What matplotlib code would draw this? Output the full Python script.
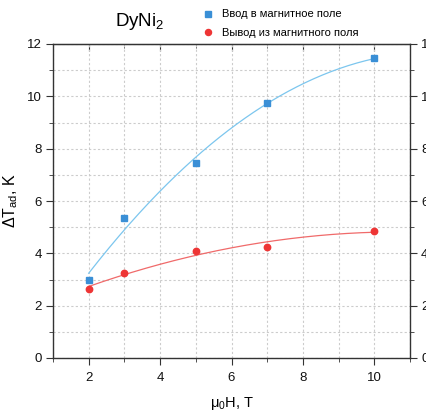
import numpy as np
import matplotlib
matplotlib.use("Agg")
import matplotlib.pyplot as plt
from matplotlib.ticker import MultipleLocator

plt.rcParams['font.family'] = ['Liberation Sans', 'DejaVu Sans']
plt.rcParams['mathtext.fontset'] = 'custom'
plt.rcParams['mathtext.rm'] = 'Liberation Sans'
plt.rcParams['mathtext.it'] = 'Liberation Sans'

# magnetisation / demagnetisation data
field = [2, 3, 5, 7, 10]
dt_in = [2.98, 5.35, 7.45, 9.74, 11.46]
dt_out = [2.64, 3.26, 4.09, 4.24, 4.86]

label_in = 'Ввод в магнитное поле'
label_out = 'Вывод из магнитного поля'

fig = plt.figure(figsize=(4.26, 4.12), dpi=100)
ax = fig.add_axes([53 / 426, 54 / 412, 357 / 426, 314 / 412])

# quadratic fits through each series
xf = np.linspace(2, 10, 200)
fit_in = np.polyval(np.polyfit(field, dt_in, 2), xf)
fit_out = np.polyval(np.polyfit(field, dt_out, 2), xf)
ax.plot(xf, fit_in, color='#7cc6ee', lw=0.9, zorder=2)
ax.plot(xf, fit_out, color='#f06a6a', lw=0.9, zorder=2)

ax.plot(field, dt_in, 's', color='#3a8fd6', ms=4, label=label_in, zorder=3)
ax.plot(field, dt_out, 'o', color='#ee3535', ms=4.6, label=label_out, zorder=3)

ax.set_xlim(1, 11)
ax.set_ylim(0, 12)
ax.xaxis.set_major_locator(MultipleLocator(2))
ax.xaxis.set_minor_locator(MultipleLocator(1))
ax.yaxis.set_major_locator(MultipleLocator(2))
ax.yaxis.set_minor_locator(MultipleLocator(1))
ax.grid(True, which='both', color='#cccccc', ls=(0, (2, 2)), lw=0.8)

for s in ax.spines.values():
    s.set_color('#333333')
    s.set_linewidth(1.0)
ax.tick_params(which='both', colors='#333333', labelsize=9.5,
               right=True, labelright=True, labelcolor='#111111', pad=3)
ax.tick_params(which='major', length=5)
ax.tick_params(which='minor', length=3)
ax.tick_params(axis='x', which='both', pad=5)

# inward ticks along the top edge
top = ax.secondary_xaxis('top')
top.set_xticks([2, 4, 6, 8, 10])
top.xaxis.set_minor_locator(MultipleLocator(1))
top.tick_params(which='both', direction='in', colors='#333333', labeltop=False)
top.tick_params(which='major', length=5)
top.tick_params(which='minor', length=3)
top.spines['top'].set_color('#333333')

ax.set_xlabel(r'$\mathrm{\mu_0}$H, T', fontsize=10.5)
ax.set_ylabel(r'$\Delta$T$_{\mathrm{ad}}$, K', fontsize=11.5)
ax.xaxis.set_label_coords(0.5, -(395 - 358) / 314, transform=ax.transAxes)
ax.yaxis.set_label_coords(-(53 - 20) / 357, 0.5, transform=ax.transAxes)

fig.text(140 / 426, 1 - 26 / 412, r'DyNi$_2$', fontsize=13.5, ha='center', va='baseline')
fig.legend(loc='upper left', bbox_to_anchor=(196 / 426, 1 - 5 / 412), frameon=False,
           fontsize=8, handletextpad=0.5, borderaxespad=0.0, labelspacing=0.75,
           handlelength=1.4, markerscale=0.95)

fig.savefig('out.png', dpi=100)
